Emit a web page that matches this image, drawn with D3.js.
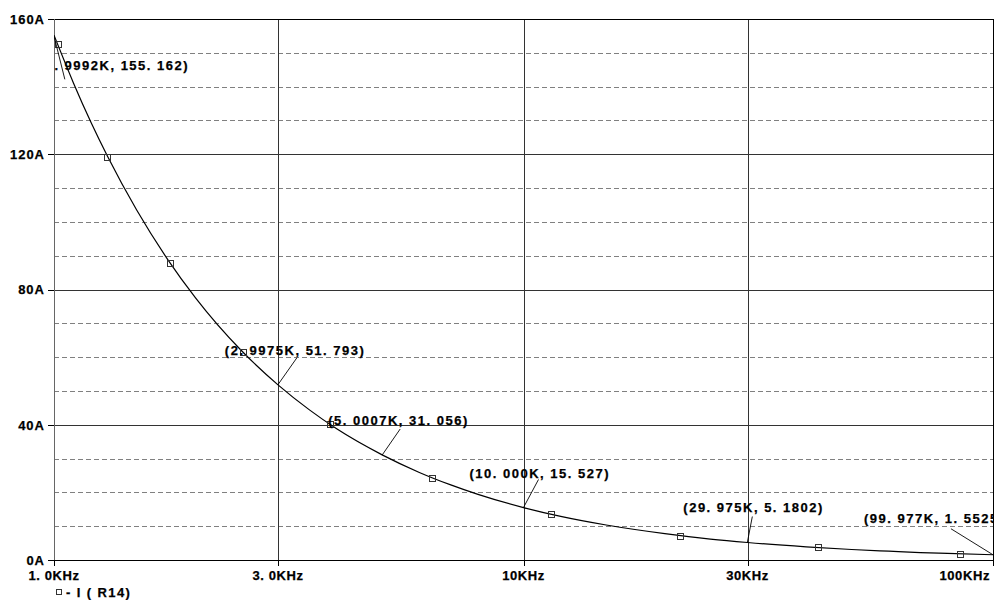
<!doctype html>
<html>
  <head>
    <meta charset="utf-8">
    <title>-I(R14)</title>
    <script src="https://d3js.org/d3.v7.min.js"></script>
    <style type="text/css">
      body { margin: 0; background-color: #ffffff; }
      text { font-family: "Liberation Sans", Arial, sans-serif; font-weight: bold; fill: #000;
             stroke: #000; stroke-width: 0.25px; }
    </style>
  </head>
  <body>
    <script>
      // curve samples (frequency in kHz, current in A)
      var freqs = [1.0, 1.1, 1.2, 1.3, 1.5, 1.75, 2.0, 2.5, 3.0, 3.5, 4.0, 5.0, 6.0, 7.0, 8.0,
                   10, 12, 15, 20, 25, 30, 40, 50, 60, 70, 80, 100];
      var current = [155.2, 141.1, 129.3, 119.4, 103.5, 88.7, 77.6, 62.1, 51.8, 44.4, 38.8, 31.1,
                     25.9, 22.2, 19.4, 15.5, 12.9, 10.35, 7.8, 6.2, 5.18, 3.9, 3.1, 2.6, 2.2, 1.94, 1.55];

      // square markers on the trace
      var markFreqs = [1.02, 1.30, 1.77, 2.53, 3.87, 6.38, 11.45, 21.5, 42.4, 85];
      var markVals = [152.5, 119.2, 87.8, 61.4, 40.1, 24.3, 13.6, 7.2, 3.7, 1.8];

      // cursor labels
      var noteFreqs = [0.9992, 2.9975, 5.0007, 10.0, 29.975, 99.977];
      var noteVals = [155.162, 51.793, 31.056, 15.527, 5.1802, 1.5525];
      var noteTexts = ["(0. 9992K, 155. 162)", "(2. 9975K, 51. 793)", "(5. 0007K, 31. 056)",
                       "(10. 000K, 15. 527)", "(29. 975K, 5. 1802)", "(99. 977K, 1. 5525)"];

      // axis ticks
      var xTicks = [1, 3, 10, 30, 100];
      var xTickLabels = ["1. 0KHz", "3. 0KHz", "10KHz", "30KHz", "100KHz"];
      var yTicks = [0, 40, 80, 120, 160];
      var yTickLabels = ["0A", "40A", "80A", "120A", "160A"];
      var yMinor = [10, 20, 30, 50, 60, 70, 90, 100, 110, 130, 140, 150];
      var legendLabel = "- I ( R14)";

      // label placement (pixels, relative to the cursor point)
      var noteLayout = [
        {dx: -14, dy: 35, lx: 11, ly: 44},
        {dx: -53, dy: -30, lx: 19, ly: -27},
        {dx: -54, dy: -30, lx: 18, ly: -26},
        {dx: -54, dy: -29, lx: 15, ly: -28},
        {dx: -64, dy: -30, lx: 5, ly: -26},
        {dx: -129, dy: -32, lx: -42, ly: -26}
      ];

      var w = 998, h = 600;
      var pLeft = 54, pRight = 993, pTop = 19, pBottom = 560;

      var x = d3.scaleLog().domain([1, 100]).range([pLeft, pRight]);
      var y = d3.scaleLinear().domain([0, 160]).range([pBottom, pTop]);

      var svg = d3.select("body").append("svg")
        .attr("width", w)
        .attr("height", h);

      svg.append("clipPath").attr("id", "plot")
        .append("rect")
        .attr("x", pLeft).attr("y", pTop - 1)
        .attr("width", pRight - pLeft).attr("height", pBottom - pTop + 1);

      // dashed minor grid
      svg.append("g").selectAll("line")
        .data(yMinor).enter().append("line")
        .attr("x1", pLeft).attr("x2", pRight)
        .attr("y1", function(d) { return Math.round(y(d)) + 0.5; })
        .attr("y2", function(d) { return Math.round(y(d)) + 0.5; })
        .style("stroke", "#808080")
        .style("stroke-dasharray", "5,3");

      // solid major grid
      svg.append("g").selectAll("line")
        .data(yTicks.slice(1, -1)).enter().append("line")
        .attr("x1", pLeft).attr("x2", pRight)
        .attr("y1", function(d) { return Math.round(y(d)) + 0.5; })
        .attr("y2", function(d) { return Math.round(y(d)) + 0.5; })
        .style("stroke", "#333");

      svg.append("g").selectAll("line")
        .data(xTicks.slice(1, -1)).enter().append("line")
        .attr("x1", function(d) { return Math.round(x(d)) + 0.5; })
        .attr("x2", function(d) { return Math.round(x(d)) + 0.5; })
        .attr("y1", pTop).attr("y2", pBottom)
        .style("stroke", "#333");

      // frame
      var frame = svg.append("g").style("shape-rendering", "crispEdges");
      frame.append("line").attr("x1", pLeft).attr("x2", pRight + 1).attr("y1", pTop).attr("y2", pTop).style("stroke", "#000");
      frame.append("line").attr("x1", pRight + 0.5).attr("x2", pRight + 0.5).attr("y1", pTop).attr("y2", pBottom).style("stroke", "#000");
      frame.append("line").attr("x1", pLeft - 6).attr("x2", pRight + 1).attr("y1", pBottom + 0.5).attr("y2", pBottom + 0.5).style("stroke", "#000");
      frame.append("line").attr("x1", pLeft + 0.5).attr("x2", pLeft + 0.5).attr("y1", pTop).attr("y2", pBottom + 6).style("stroke", "#666");

      // y ticks and labels
      var yAxis = svg.append("g");
      yAxis.selectAll("line").data(yTicks).enter().append("line")
        .attr("x1", pLeft - 6).attr("x2", pLeft)
        .attr("y1", function(d) { return Math.round(y(d)) + 0.5; })
        .attr("y2", function(d) { return Math.round(y(d)) + 0.5; })
        .style("stroke", "#000");
      yAxis.selectAll("text").data(yTicks).enter().append("text")
        .attr("x", pLeft - 9)
        .attr("y", function(d) { return y(d) + 4.8; })
        .attr("text-anchor", "end")
        .style("font-size", "13px")
        .style("letter-spacing", "1px")
        .text(function(d, i) { return yTickLabels[i]; });

      // x ticks and labels
      var xAxis = svg.append("g");
      xAxis.selectAll("line").data(xTicks).enter().append("line")
        .attr("x1", function(d) { return Math.round(x(d)) + 0.5; })
        .attr("x2", function(d) { return Math.round(x(d)) + 0.5; })
        .attr("y1", pBottom).attr("y2", pBottom + 6)
        .style("stroke", "#000");
      xAxis.selectAll("text").data(xTicks).enter().append("text")
        .attr("x", function(d, i) { return i == xTicks.length - 1 ? x(d) - 3 : x(d); })
        .attr("y", 580)
        .attr("text-anchor", function(d, i) { return i == xTicks.length - 1 ? "end" : "middle"; })
        .style("font-size", "13px")
        .style("letter-spacing", "0.6px")
        .text(function(d, i) { return xTickLabels[i]; });

      // trace
      var plot = svg.append("g").attr("clip-path", "url(#plot)");
      var pts = freqs.map(function(f, i) { return [f, current[i]]; });
      var line = d3.line()
        .x(function(d) { return x(d[0]); })
        .y(function(d) { return y(d[1]); })
        .curve(d3.curveMonotoneX);
      plot.append("path")
        .datum(pts)
        .attr("d", line)
        .style("fill", "none")
        .style("stroke", "#000")
        .style("stroke-width", 1.2);

      plot.selectAll("rect.mark")
        .data(markFreqs).enter().append("rect")
        .attr("class", "mark")
        .attr("x", function(d) { return Math.round(x(d)) - 3 + 0.5; })
        .attr("y", function(d, i) { return Math.round(y(markVals[i])) - 3 + 0.5; })
        .attr("width", 6).attr("height", 6)
        .style("fill", "none")
        .style("stroke", "#333");

      // cursor labels with leader lines
      var notes = plot.append("g");
      noteFreqs.forEach(function(f, i) {
        var px = x(f), py = y(noteVals[i]), L = noteLayout[i];
        notes.append("line")
          .attr("x1", px).attr("y1", py)
          .attr("x2", px + L.lx).attr("y2", py + L.ly)
          .style("stroke", "#000")
          .style("stroke-width", 0.9);
        notes.append("text")
          .attr("x", px + L.dx).attr("y", py + L.dy)
          .style("font-size", "13px")
          .style("letter-spacing", "1.5px")
          .text(noteTexts[i]);
      });

      // legend
      svg.append("rect")
        .attr("x", 56.5).attr("y", 589.5)
        .attr("width", 5).attr("height", 5)
        .style("fill", "none")
        .style("stroke", "#333");
      svg.append("text")
        .attr("x", 66).attr("y", 597)
        .style("font-size", "13px")
        .style("letter-spacing", "1.4px")
        .text(legendLabel);
    </script>
  </body>
</html>
